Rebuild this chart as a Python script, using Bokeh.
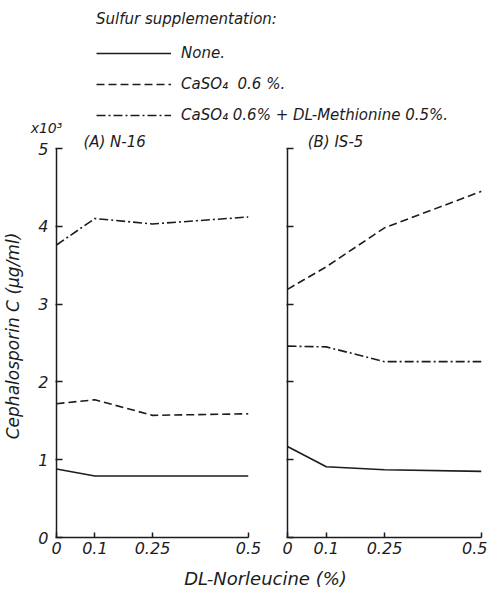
from bokeh.plotting import figure
from bokeh.models import (Range1d, FixedTicker, Label, Legend, LegendItem,
                          CustomLabelingPolicy)
from bokeh.layouts import column, row
from bokeh.embed import file_html
from bokeh.resources import INLINE

# ---- data ----
x_vals = [0, 0.1, 0.25, 0.5]
x_ticks = [0, 0.1, 0.25, 0.5]
x_tick_labels = ["0", "0.1", "0.25", "0.5"]
y_ticks = [0, 1, 2, 3, 4, 5]
y_tick_labels = ["0", "1", "2", "3", "4", "5"]

A_none = [0.88, 0.79, 0.79, 0.79]
A_caso4 = [1.72, 1.77, 1.57, 1.59]
A_met = [3.76, 4.10, 4.03, 4.12]

B_none = [1.17, 0.91, 0.87, 0.85]
B_caso4 = [3.19, 3.48, 3.98, 4.45]
B_met = [2.46, 2.45, 2.26, 2.26]

series_labels = ["None.", "CaSO\u2084  0.6 %.", "CaSO\u2084 0.6% + DL-Methionine 0.5%."]
legend_title = "Sulfur supplementation:"
panel_titles = ["(A) N-16", "(B) IS-5"]
y_label = "Cephalosporin C (\u03bcg/ml)"
x_label = "DL-Norleucine (%)"
y_scale_note = "x10\u00b3"

FONT = "DejaVu Sans"
INK = "#1c1c1c"
dashes = ["solid", "8 4", "9 3 2 3"]

hide_all = CustomLabelingPolicy(code="""
const all = [...indices]
for (const i of all) indices.unset(i)
return indices
""")


def style_axis(ax):
    ax.major_label_text_font = FONT
    ax.major_label_text_font_style = "italic"
    ax.major_label_text_font_size = "16px"
    ax.major_label_text_color = INK
    ax.axis_line_color = INK
    ax.axis_line_width = 1.5
    ax.major_tick_line_color = INK
    ax.major_tick_line_width = 1.5
    ax.minor_tick_line_color = None


def make_panel(series, title, width, left, right, show_ylabels, title_x):
    p = figure(width=width, height=428, output_backend="svg", toolbar_location=None,
               x_range=Range1d(0, 0.5), y_range=Range1d(0, 5.18),
               min_border_left=left, min_border_right=right,
               min_border_top=0, min_border_bottom=25)
    p.outline_line_color = None
    p.grid.visible = False
    for ys, d in zip(series, dashes):
        p.line(x_vals, ys, line_color=INK, line_width=1.6, line_dash=d)

    xa = p.xaxis[0]
    style_axis(xa)
    xa.ticker = FixedTicker(ticks=x_ticks)
    xa.major_label_overrides = {t: l for t, l in zip(x_ticks, x_tick_labels)}
    xa.major_tick_in = 5
    xa.major_tick_out = 0
    xa.major_label_standoff = 4

    ya = p.yaxis[0]
    style_axis(ya)
    ya.ticker = FixedTicker(ticks=y_ticks)
    ya.major_label_overrides = {t: l for t, l in zip(y_ticks, y_tick_labels)}
    ya.bounds = (0, 5)
    ya.major_tick_in = 6
    ya.major_tick_out = 1
    if show_ylabels:
        ya.major_label_standoff = 7
        ya.axis_label = y_label
        ya.axis_label_text_font = FONT
        ya.axis_label_text_font_style = "italic"
        ya.axis_label_text_font_size = "17px"
        ya.axis_label_text_color = INK
        ya.axis_label_standoff = 12
    else:
        ya.major_label_policy = hide_all
        ya.major_label_standoff = 0

    p.add_layout(Label(x=title_x, y=5.09, text=title,
                       text_font=FONT, text_font_style="italic", text_font_size="15px",
                       text_color=INK, text_align="left", text_baseline="middle"))
    return p


pA = make_panel([A_none, A_caso4, A_met], panel_titles[0], 268, 55, 20, True, 0.07)
pB = make_panel([B_none, B_caso4, B_met], panel_titles[1], 219, 19, 6, False, 0.052)

# ---- legend strip (sample lines are the panel A series, kept out of view) ----
pl = figure(width=487, height=134, output_backend="svg", toolbar_location=None,
            x_axis_location=None, y_axis_location=None,
            x_range=Range1d(0, 487), y_range=Range1d(1000, 1134),
            min_border_left=0, min_border_top=0, min_border_right=0, min_border_bottom=0)
pl.outline_line_color = None
pl.grid.visible = False
items = []
for lab, ys, d in zip(series_labels, [A_none, A_caso4, A_met], dashes):
    r = pl.line(x_vals, ys, line_color=INK, line_width=1.6, line_dash=d)
    items.append(LegendItem(label=lab, renderers=[r]))
leg = Legend(items=items, location=(96, 10), margin=0, padding=0,
             glyph_width=75, glyph_height=14, label_height=14, spacing=13,
             label_standoff=10, label_text_font=FONT, label_text_font_style="italic",
             label_text_font_size="15px", label_text_color=INK,
             title=legend_title, title_text_font=FONT, title_text_font_style="italic",
             title_text_font_size="15px", title_text_color=INK, title_standoff=16,
             background_fill_alpha=0, border_line_alpha=0)
pl.add_layout(leg, "center")
pl.add_layout(Label(x=46, y=1007, text=y_scale_note, text_font=FONT,
                    text_font_style="italic", text_font_size="14px", text_color=INK,
                    text_align="center", text_baseline="middle"))

# ---- shared x label strip ----
px = figure(width=487, height=26, output_backend="svg", toolbar_location=None,
            x_axis_location=None, y_axis_location=None,
            x_range=Range1d(0, 487), y_range=Range1d(0, 26),
            min_border_left=0, min_border_top=0, min_border_right=0, min_border_bottom=0)
px.outline_line_color = None
px.grid.visible = False
px.add_layout(Label(x=265, y=10, text=x_label, text_font=FONT, text_font_style="italic",
                    text_font_size="18px", text_color=INK, text_align="center",
                    text_baseline="middle"))

layout = column(pl, row(pA, pB), px)
open("out.html", "w").write(file_html(layout, INLINE))
